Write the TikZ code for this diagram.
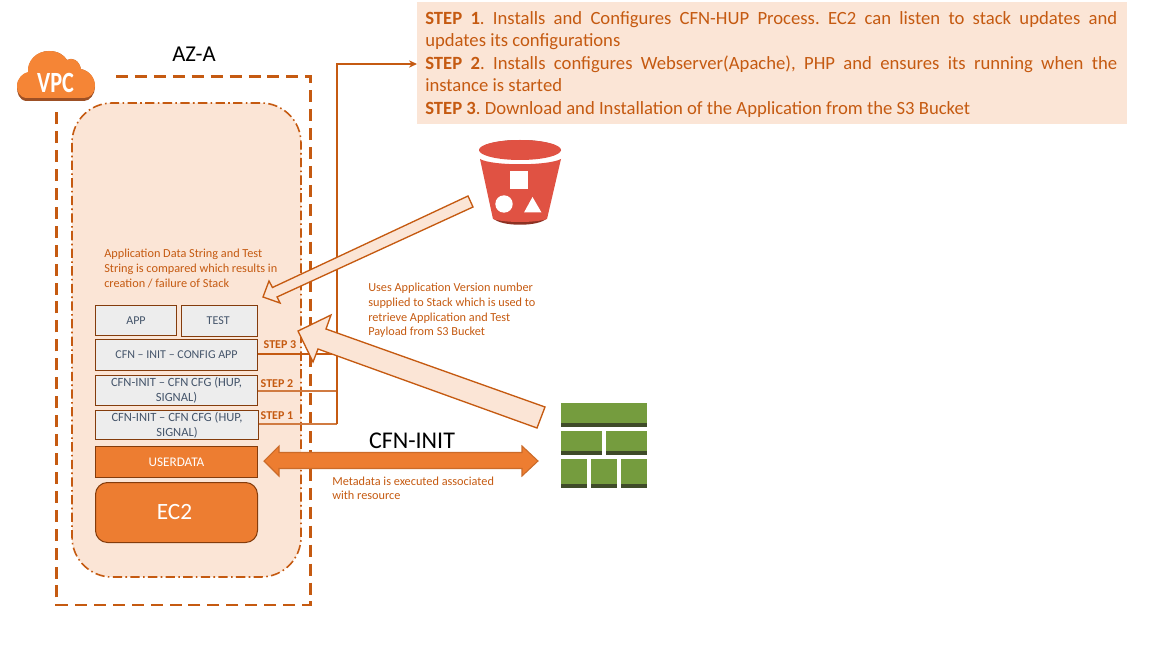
\documentclass[tikz,border=0pt]{standalone}
\usepackage{fontspec}
\setmainfont{Carlito}
\usetikzlibrary{arrows.meta}
\frenchspacing
\definecolor{brorange}{HTML}{C55A11}
\definecolor{lightor}{HTML}{FBE5D6}
\definecolor{midor}{HTML}{ED7D31}
\definecolor{dkbrown}{HTML}{843C0C}
\definecolor{boxgray}{HTML}{EDEDED}
\definecolor{txgray}{HTML}{44546A}
\definecolor{cloudor}{HTML}{F58536}
\definecolor{clouddk}{HTML}{9D5025}
\definecolor{bred}{HTML}{E05243}
\definecolor{bdk}{HTML}{8C3123}
\definecolor{fgreen}{HTML}{759C3E}
\definecolor{fdark}{HTML}{3F4B29}
\tikzset{
  x=0.75pt,y=-0.75pt,
  cfgbox/.style={draw=dkbrown,line width=0.75pt,fill=boxgray,text=txgray,inner sep=0pt,align=center,font=\fontsize{9}{10.9}\selectfont,anchor=north west},
  cfgboxwide/.style={cfgbox,font=\fontsize{9.4}{11}\selectfont},
  orbox/.style={draw=dkbrown,line width=0.75pt,fill=midor,text=white,inner sep=0pt,align=center,anchor=north west},
  notetext/.style={text=brorange,inner sep=0pt,anchor=west,align=left,font=\fontsize{9.2}{10.9}\selectfont},
  steptext/.style={text=brorange,inner sep=0pt,font=\bfseries\fontsize{9}{11}\selectfont},
  steplink/.style={draw=brorange,line width=0.85pt},
  steplinklt/.style={draw=brorange!80!white,line width=0.85pt},
  blockarrow/.style={draw=brorange,line width=1pt,fill=lightor,line join=miter},
  blocksolid/.style={draw=brorange!90!white,line width=0.8pt,fill=midor,line join=miter},
  bigtext/.style={text=black,inner sep=0pt,font=\fontsize{18}{20}\selectfont},
  fwall/.style={fill=fgreen},
  fwalld/.style={fill=fdark},
}
\begin{document}
\begin{tikzpicture}
\useasboundingbox (0,0) rectangle (1152,648);
% AZ outline
\draw[brorange,line width=2.2pt,dash pattern=on 9pt off 5.2pt]
  (116,76.5) -- (310.5,76.5) -- (310.5,605) -- (56.5,605) -- (56.5,110);
% inner zone
\draw[brorange,line width=1.2pt,fill=lightor,dash pattern=on 7pt off 2.5pt on 1.2pt off 2.5pt,rounded corners=30pt]
  (72,103) rectangle (301,577);
\node[text=black,inner sep=0pt,font=\fontsize{17}{20}\selectfont] (az) at (194,54) {AZ-A};
% boxes
\node[cfgbox,minimum width=60.75pt,minimum height=22.5pt] (app) at (95,305) {APP};
\node[cfgbox,minimum width=57pt,minimum height=22.9pt] (test) at (181,305) {TEST\hspace{2pt}};
\node[cfgbox,minimum width=121.5pt,minimum height=22.9pt] (cfg3) at (95,339) {CFN – INIT – CONFIG APP};
\node[cfgboxwide,minimum width=121.5pt,minimum height=22.5pt] (cfg2) at (95,375) {CFN-INIT – CFN CFG (HUP,\\SIGNAL)};
\node[cfgboxwide,minimum width=122.2pt,minimum height=22pt] (cfg1) at (95,410) {CFN-INIT – CFN CFG (HUP,\\SIGNAL)};
\node[orbox,minimum width=121.5pt,minimum height=23.2pt,font=\fontsize{9.9}{11}\selectfont] (userdata) at (95,446) {USERDATA};
\node[orbox,rounded corners=9pt,minimum width=121.5pt,minimum height=45pt,font=\fontsize{17.5}{22}\selectfont] (ec2) at (95,482) {EC2\hspace{3pt}};
\coordinate (j3) at (337,354);
\coordinate (j2) at (337,391);
\coordinate (j1) at (337,424);
\coordinate (jtop) at (337,64);
\node[inner sep=0pt,minimum width=532.5pt,minimum height=91.5pt,fill=lightor,anchor=north west] (panel) at (417,2) {};
\draw[steplink] (j3 -| cfg3.east) -- (j3);
\draw[steplinklt] (j2 -| cfg2.east) -- (j2);
\draw[steplinklt] (j1 -| cfg1.east) -- (j1);
\draw[steplink,-{Stealth[length=6pt,width=5.5pt]}] (j1) -- (jtop) -- (panel.west |- jtop);
\node[steptext] (s3) at (280,345) {STEP 3};
\node[steptext] (s2) at (277,384) {STEP 2};
\node[steptext] (s1) at (277,416) {STEP 1};
% panel text
\node[inner sep=0pt,anchor=north west,text width=519pt,text=brorange,font=\fontsize{14}{16.9}\selectfont,align=justify] (paneltext) at (425,11) {%
\textbf{STEP 1}. Installs and Configures CFN-HUP Process. EC2 can listen to stack updates and\linebreak updates its configurations\\
\textbf{STEP 2}. Installs configures Webserver(Apache), PHP and ensures its running when the\linebreak instance is started\\
\textbf{STEP 3}. Download and Installation of the Application from the S3 Bucket};
% notes
\node[notetext] (n1) at (104,268.5) {Application Data String and Test\\String is compared which results in\\creation / failure of Stack};
\node[notetext] (n2) at (368,310.5) {Uses Application Version number\\supplied to Stack which is used to\\retrieve Application and Test\\Payload from S3 Bucket};
\node[notetext] (n3) at (332,488.5) {Metadata is executed associated\\with resource};
\node[bigtext] (cfninit) at (412,441) {CFN-INIT};
% block arrows
\draw[blockarrow] (468,196) -- (473,207) -- (277,297) -- (280,303) -- (263,297) -- (269,281) -- (272.5,287.5) -- cycle;
\draw[blockarrow] (545,407) -- (537,428) -- (318,349) -- (313,362) -- (298,331) -- (331,315) -- (326,329) -- cycle;
\draw[blocksolid] (264,461) -- (279,446) -- (279,452.5) -- (522,452.5) -- (522,446) -- (538,461) -- (522,476) -- (522,468.5) -- (279,468.5) -- (279,476) -- cycle;
% VPC cloud
\fill[clouddk] (26,101) .. controls (19,100) and (17,93) .. (17,87) .. controls (17,79) and (23,74) .. (28,73) .. controls (27,62) and (36,51) .. (49,51) .. controls (58,51) and (64,55) .. (67,60) .. controls (72,57) and (79,60) .. (81,69) .. controls (90,71) and (95,79) .. (95,87) .. controls (95,94) and (90,101) .. (84,101) -- cycle;
\fill[cloudor] (26,98) .. controls (19,97) and (17,91) .. (17,86) .. controls (17,78) and (23,73) .. (28,72) .. controls (27,61) and (36,51) .. (49,51) .. controls (58,51) and (64,55) .. (67,60) .. controls (72,57) and (79,60) .. (81,69) .. controls (90,71) and (95,78) .. (95,86) .. controls (95,93) and (90,98) .. (84,98) -- cycle;
\node[text=white,inner sep=0pt,font=\bfseries\fontsize{22}{24}\selectfont] (vpc) at (55.5,82.5) {\scalebox{0.76}[1]{VPC}};
% S3 bucket
\fill[bdk] (479,151) arc[start angle=180,end angle=360,x radius=41,y radius=11] -- cycle;
\fill[bred] (520,150) ellipse[x radius=41,y radius=10];
\fill[bdk] (493,218) .. controls (500,227) and (540,227) .. (547,218) -- cycle;
\fill[bred] (480,159) .. controls (492,166) and (548,166) .. (561,159) -- (547,219) .. controls (535,223) and (505,223) .. (493,219) -- cycle;
\fill[white] (510,171) rectangle (528,189);
\fill[white] (504,204) circle[radius=8.7];
\fill[white] (532.5,197) -- (524,212.5) -- (541.5,212.5) -- cycle;
% firewall
\fill[fwall] (561,403) rectangle (647,427);
\fill[fwalld] (561,423) rectangle (647,427);
\fill[fwall] (561,431) rectangle (602,455);
\fill[fwalld] (561,451) rectangle (602,455);
\fill[fwall] (606,431) rectangle (647,455);
\fill[fwalld] (606,451) rectangle (647,455);
\fill[fwall] (561,459) rectangle (587,488);
\fill[fwalld] (561,484) rectangle (587,488);
\fill[fwall] (591,459) rectangle (617,488);
\fill[fwalld] (591,484) rectangle (617,488);
\fill[fwall] (621,459) rectangle (647,488);
\fill[fwalld] (621,484) rectangle (647,488);
\end{tikzpicture}
\end{document}
